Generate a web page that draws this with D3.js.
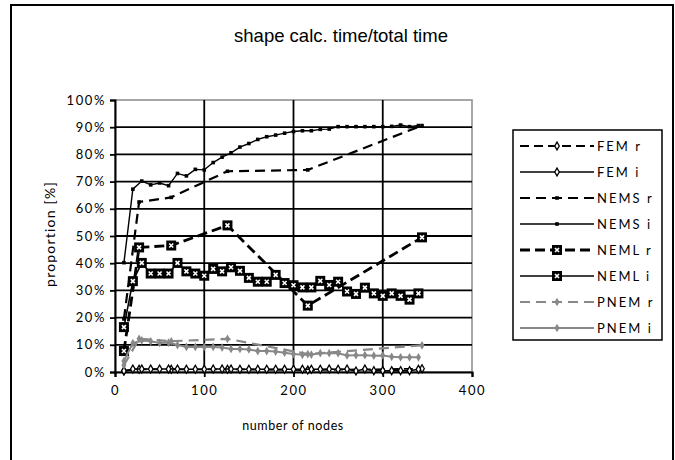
<!DOCTYPE html>
<html><head><meta charset="utf-8">
<script src="https://cdn.jsdelivr.net/npm/d3@7"></script>
<style>body{margin:0;background:#fff}svg{display:block}</style>
</head><body>
<svg id="c" width="675" height="460"></svg>
<script>
const nodesI = [10,20,30,40,50,60,70,80,90,100,110,120,130,140,150,160,170,180,190,200,210,220,230,240,250,260,270,280,290,300,310,320,330,340];
const nodesR = [10,27,63,126,216,344];
const femR  = [0.5,1.0,1.0,1.0,0.7,1.2];
const femI  = [0.4,1.1,1.1,1.1,1.1,1.1,1.1,1.0,1.0,1.0,1.1,1.1,1.1,1.0,1.0,1.0,1.0,1.0,1.0,1.0,1.0,1.0,1.0,1.1,1.0,1.1,0.4,1.1,0.5,0.5,0.5,0.5,0.5,1.0];
const nemsR = [19.5,62.5,64.2,73.8,74.3,90.6];
const nemsI = [40.2,67.2,70.2,68.8,69.5,68.5,73.0,72.1,74.5,74.3,77.0,79.0,80.6,82.7,84.0,85.5,86.5,87.1,87.8,88.4,88.7,88.7,89.2,89.3,90.2,90.2,90.2,90.2,90.2,90.2,90.3,90.8,90.2,90.6];
const nemlR = [7.7,45.8,46.5,53.9,24.4,49.5];
const nemlI = [16.5,33.4,40.1,36.2,36.2,36.2,40.1,37.0,36.2,35.4,37.9,37.0,38.5,37.2,34.6,33.2,33.2,35.7,32.7,31.9,31.1,31.1,33.5,32.0,33.2,29.6,28.7,31.0,28.9,28.0,28.9,28.0,26.6,28.9];
const pnemR = [2.5,12.2,11.3,12.2,6.6,9.8];
const pnemI = [4.0,10.6,11.6,11.3,10.7,10.8,9.9,9.2,9.2,9.2,9.2,9.0,8.5,8.5,8.3,7.7,7.7,7.5,7.1,6.6,6.3,6.4,6.9,6.9,6.9,6.1,6.2,6.2,6.0,6.1,5.6,5.4,5.4,5.4];
const xTicks = [0,100,200,300,400];
const yTicks = [0,0.1,0.2,0.3,0.4,0.5,0.6,0.7,0.8,0.9,1.0];
const seriesNames = ["FEM r","FEM i","NEMS r","NEMS i","NEML r","NEML i","PNEM r","PNEM i"];

const series = [
  {name:seriesNames[0], xs:nodesR, ys:femR,  color:"#000", width:1.8, dash:"9,5", marker:"diamond"},
  {name:seriesNames[1], xs:nodesI, ys:femI,  color:"#000", width:1.5, dash:null,  marker:"diamond"},
  {name:seriesNames[2], xs:nodesR, ys:nemsR, color:"#000", width:2.2, dash:"10,6", marker:"dot"},
  {name:seriesNames[3], xs:nodesI, ys:nemsI, color:"#000", width:1.4, dash:null,  marker:"dot"},
  {name:seriesNames[4], xs:nodesR, ys:nemlR, color:"#000", width:2.8, dash:"10,5", marker:"square"},
  {name:seriesNames[5], xs:nodesI, ys:nemlI, color:"#000", width:1.6, dash:null,  marker:"square"},
  {name:seriesNames[6], xs:nodesR, ys:pnemR, color:"#888", width:2.2, dash:"10,6", marker:"gdiamond"},
  {name:seriesNames[7], xs:nodesI, ys:pnemI, color:"#888", width:2.0, dash:null,  marker:"gdiamond"}
];

const svg = d3.select("#c");
const L=115, R=472, T=100, B=372;
const x = d3.scaleLinear().domain([0,400]).range([L,R]);
const y = d3.scaleLinear().domain([0,1]).range([B,T]);
const tickFont = "Lato, 'Open Sans', sans-serif";

// outer border
svg.append("rect").attr("x",11).attr("y",5).attr("width",662).attr("height",470)
  .attr("fill","none").attr("stroke","#000").attr("stroke-width",2);

// title
svg.append("text").attr("x",341).attr("y",42).attr("text-anchor","middle")
  .attr("font-family","'Liberation Sans', Arial, sans-serif").attr("font-size",18.5)
  .text("shape calc. time/total time");

// plot border
svg.append("rect").attr("x",L).attr("y",T).attr("width",R-L).attr("height",B-T)
  .attr("fill","none").attr("stroke","#8a8a8a").attr("stroke-width",1.5);

// grid
svg.append("g").selectAll("line").data(yTicks.filter(d=>d>0&&d<1)).join("line")
  .attr("x1",L).attr("x2",R).attr("y1",d=>y(d)).attr("y2",d=>y(d))
  .attr("stroke","#000").attr("stroke-width",1.8);
svg.append("g").selectAll("line").data(xTicks.filter(d=>d>0&&d<400)).join("line")
  .attr("y1",T).attr("y2",B).attr("x1",d=>x(d)).attr("x2",d=>x(d))
  .attr("stroke","#000").attr("stroke-width",1.8);

// axes
const gx = svg.append("g").attr("transform",`translate(0,${B})`)
  .call(d3.axisBottom(x).tickValues(xTicks).tickSize(5).tickPadding(9).tickFormat(d3.format("d")));
const gy = svg.append("g").attr("transform",`translate(${L},0)`)
  .call(d3.axisLeft(y).tickValues(yTicks).tickSize(5).tickPadding(4).tickFormat(d3.format(".0%")));
[gx,gy].forEach(g=>{
  g.select(".domain").attr("stroke","#000").attr("stroke-width",2);
  g.selectAll(".tick line").attr("stroke","#000").attr("stroke-width",1.8);
  g.selectAll(".tick text").attr("font-family",tickFont).attr("font-size",13)
    .attr("fill","#000").style("letter-spacing","1.6px");
});

// axis titles
svg.append("text").attr("x",293).attr("y",430).attr("text-anchor","middle")
  .attr("font-family",tickFont).attr("font-size",12.5).style("letter-spacing","0.6px")
  .text("number of nodes");
svg.append("text").attr("transform","translate(55,234) rotate(-90)").attr("text-anchor","middle")
  .attr("font-family",tickFont).attr("font-size",14).style("letter-spacing","1.2px")
  .text("proportion [%]");

function drawMarker(g, type, cx, cy){
  if(type==="diamond"){
    g.append("path").attr("d",d3.symbol(d3.symbolDiamond,18)()).attr("transform",`translate(${cx},${cy})`)
      .attr("fill","#fff").attr("stroke","#000").attr("stroke-width",1.3);
  } else if(type==="dot"){
    g.append("rect").attr("x",cx-1.8).attr("y",cy-1.8).attr("width",3.6).attr("height",3.6).attr("fill","#000");
  } else if(type==="square"){
    g.append("rect").attr("x",cx-5).attr("y",cy-5).attr("width",10).attr("height",10).attr("fill","#000");
    g.append("path").attr("d",`M${cx-2},${cy-2}L${cx+2},${cy+2}M${cx+2},${cy-2}L${cx-2},${cy+2}`)
      .attr("stroke","#fff").attr("stroke-width",1.6);
  } else if(type==="gdiamond"){
    g.append("path").attr("d",d3.symbol(d3.symbolDiamond,22)()).attr("transform",`translate(${cx},${cy})`)
      .attr("fill","#888");
  }
}

const line = d3.line();
series.forEach(s=>{
  const pts = s.xs.map((v,i)=>[x(v), y(s.ys[i]/100)]);
  const g = svg.append("g");
  g.append("path").attr("d",line(pts)).attr("fill","none").attr("stroke",s.color)
    .attr("stroke-width",s.width).attr("stroke-dasharray",s.dash);
  pts.forEach(p=>drawMarker(g,s.marker,p[0],p[1]));
});

// legend
const lg = svg.append("g");
lg.append("rect").attr("x",513).attr("y",130).attr("width",149).attr("height",210)
  .attr("fill","#fff").attr("stroke","#000").attr("stroke-width",1.5);
series.forEach((s,i)=>{
  const ly = 146 + i*26;
  lg.append("line").attr("x1",520).attr("x2",594).attr("y1",ly).attr("y2",ly)
    .attr("stroke",s.color).attr("stroke-width",s.width).attr("stroke-dasharray",s.dash);
  drawMarker(lg,s.marker,557,ly);
  lg.append("text").attr("x",597).attr("y",ly+4.5).attr("font-family",tickFont).attr("font-size",13)
    .style("letter-spacing","2px").text(s.name);
});
</script>
</body></html>
